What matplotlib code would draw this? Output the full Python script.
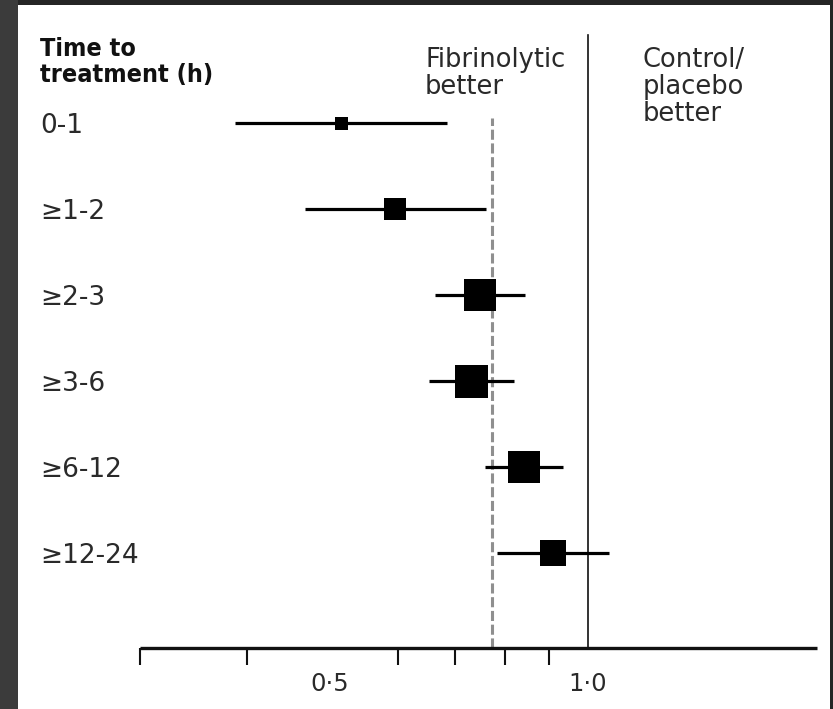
import numpy as np
import matplotlib
matplotlib.use("Agg")
import matplotlib.pyplot as plt
from matplotlib.patches import Rectangle
from matplotlib.transforms import blended_transform_factory, offset_copy
from matplotlib.ticker import FixedLocator, FixedFormatter, NullFormatter

# Odds ratios (log scale) by time from symptom onset to treatment
groups = ["0-1", "≥1-2", "≥2-3", "≥3-6", "≥6-12", "≥12-24"]
odds_ratio = [0.515, 0.595, 0.748, 0.730, 0.842, 0.911]
ci_low = [0.387, 0.467, 0.663, 0.652, 0.758, 0.783]
ci_high = [0.685, 0.760, 0.845, 0.820, 0.935, 1.058]
overall_or = 0.773
null_value = 1.0
tick_values = [0.5, 1.0]
tick_labels = ["0·5", "1·0"]
minor_values = [0.3, 0.4, 0.5, 0.6, 0.7, 0.8, 0.9]

# box side (pixels) reflects the weight of each group
box_px = [13, 22, 32, 33, 32, 26]

W, H, DPI = 833, 709, 100
fig = plt.figure(figsize=(W / DPI, H / DPI), dpi=DPI, facecolor="#252525")


def fx(px):
    return px / W


def fy(py):
    return 1 - py / H


# framed white panel
fig.patches.append(Rectangle((0, 0), fx(18), 1, transform=fig.transFigure,
                             facecolor="#3b3b3b", edgecolor="none", zorder=-10))
fig.patches.append(Rectangle((fx(18), 0), fx(830) - fx(18), fy(5),
                             transform=fig.transFigure, facecolor="white",
                             edgecolor="none", zorder=-10))

ax_left, ax_right, ax_top, ax_bottom = 140, 817, 5, 648
ax = fig.add_axes([fx(ax_left), fy(ax_bottom), (ax_right - ax_left) / W,
                   (ax_bottom - ax_top) / H])
ax.set_facecolor("none")
ax.set_xscale("log")
ax.set_xlim(0.3, 1.85)
row_px, first_row = 86, 123
ax.set_ylim((ax_bottom - first_row) / row_px, (ax_top - first_row) / row_px)

for s in ["top", "left", "right"]:
    ax.spines[s].set_visible(False)
ax.spines["bottom"].set_linewidth(2.4)
ax.spines["bottom"].set_color("#111111")
ax.spines["bottom"].set_capstyle("butt")

ax.yaxis.set_visible(False)
ax.xaxis.set_major_locator(FixedLocator(tick_values))
ax.xaxis.set_major_formatter(FixedFormatter(tick_labels))
ax.xaxis.set_minor_locator(FixedLocator(minor_values))
ax.xaxis.set_minor_formatter(NullFormatter())
ax.tick_params(axis="x", which="major", length=0, pad=17.5, labelsize=17.5,
               labelcolor="#2a2a2a")
ax.tick_params(axis="x", which="minor", length=12, width=1.5, color="#111111",
               direction="out")

# reference lines
ax.axvline(null_value, ymin=0, ymax=(ax_bottom - 35) / (ax_bottom - ax_top),
           color="#111111", lw=1.2, zorder=1)
dl = ax.axvline(overall_or, ymin=0, ymax=(ax_bottom - 118) / (ax_bottom - ax_top),
                color="#8f8f8f", lw=2.2, zorder=1)
dl.set_dashes((3.3, 1.2))

y = np.arange(len(groups))
ax.hlines(y, ci_low, ci_high, color="black", lw=2.3, zorder=2)
for xi, yi, bp in zip(odds_ratio, y, box_px):
    ax.plot([xi], [yi], marker="s", ms=bp * 0.72, color="black", mec="black",
            mew=0, linestyle="none", zorder=3)

# row labels
row_trans = offset_copy(blended_transform_factory(fig.transFigure, ax.transData),
                        fig=fig, x=0, y=-10, units="dots")
for yi, g in zip(y, groups):
    fig.text(fx(40), yi, g, transform=row_trans, fontsize=19, color="#2a2a2a",
             va="baseline", ha="left")

# header and direction labels
fig.text(fx(40), fy(56), "Time to", fontsize=18, fontweight="bold",
         color="#111111", va="baseline", fontstretch="condensed")
fig.text(fx(40), fy(82), "treatment (h)", fontsize=18, fontweight="bold",
         color="#111111", va="baseline", fontstretch="condensed")
for i, line in enumerate(["Fibrinolytic", "better"]):
    fig.text(fx(425), fy(67 + 27 * i), line, fontsize=18.5, color="#2a2a2a",
             va="baseline")
for i, line in enumerate(["Control/", "placebo", "better"]):
    fig.text(fx(643), fy(67 + 27 * i), line, fontsize=18.5, color="#2a2a2a",
             va="baseline")

fig.savefig("out.png", dpi=DPI, facecolor=fig.get_facecolor())
